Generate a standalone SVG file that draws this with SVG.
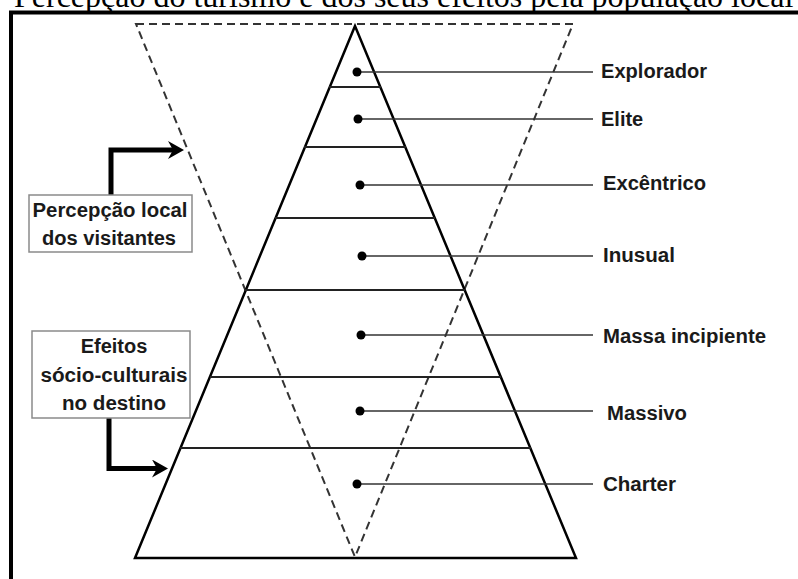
<svg xmlns="http://www.w3.org/2000/svg" width="798" height="579" viewBox="0 0 798 579">
<defs>
<marker id="arrow" markerUnits="userSpaceOnUse" viewBox="0 0 16 18" markerWidth="16" markerHeight="18" refX="8" refY="9" orient="auto">
<path d="M0,0 L16,9 L0,18 L5,9 Z" fill="#000"/>
</marker>
<style>
.lbl{font-family:"Liberation Sans",Arial,sans-serif;font-weight:bold;font-size:20px;fill:#1a1a1a}
.box{fill:#fff;stroke:#8a8a8a;stroke-width:1.5}
.div{stroke:#222;stroke-width:2}
.lead{stroke:#333;stroke-width:1.6}
.dot{fill:#000}
.arr{fill:none;stroke:#000;stroke-width:5;marker-end:url(#arrow)}
.dash{fill:none;stroke:#333;stroke-width:2;stroke-dasharray:8 5}
</style>
</defs>
<rect width="798" height="579" fill="#fff"/>
<g id="title">
<text x="14" y="7" font-family="'Liberation Serif','Times New Roman',serif" font-size="32" fill="#000">Percepção do turismo e dos seus efeitos pela população local</text>
</g>
<g id="frame">
<path d="M11,600 V12.5 H800" fill="none" stroke="#000" stroke-width="4"/>
</g>
<g id="inverted-triangle">
<path class="dash" d="M136,24 H573 L355,557 Z"/>
</g>
<g id="pyramid">
<path d="M355,26 L135,558 L576,558 Z" fill="none" stroke="#000" stroke-width="2.5"/>
<line class="div" x1="329" y1="87" x2="381" y2="87"/>
<line class="div" x1="304" y1="147" x2="406" y2="147"/>
<line class="div" x1="275" y1="218" x2="435" y2="218"/>
<line class="div" x1="245" y1="290" x2="465" y2="290"/>
<line class="div" x1="210" y1="377" x2="501" y2="377"/>
<line class="div" x1="180" y1="448" x2="531" y2="448"/>
</g>
<g id="connectors">
<line class="lead" x1="357" y1="72" x2="593" y2="72"/>
<line class="lead" x1="358" y1="119" x2="593" y2="119"/>
<line class="lead" x1="360" y1="185" x2="593" y2="185"/>
<line class="lead" x1="362" y1="256" x2="593" y2="256"/>
<line class="lead" x1="361" y1="335" x2="593" y2="335"/>
<line class="lead" x1="360" y1="411" x2="593" y2="411"/>
<line class="lead" x1="357" y1="484" x2="593" y2="484"/>
<path class="arr" d="M111,195 V150 H176"/>
<path class="arr" d="M109,418 V468.5 H160"/>
</g>
<g id="level-explorador">
<circle class="dot" cx="357" cy="72" r="4.5"/>
<text class="lbl" x="601" y="78" textLength="106" lengthAdjust="spacingAndGlyphs">Explorador</text>
</g>
<g id="level-elite">
<circle class="dot" cx="358" cy="119" r="4.5"/>
<text class="lbl" x="601" y="126">Elite</text>
</g>
<g id="level-excentrico">
<circle class="dot" cx="360" cy="185" r="4.5"/>
<text class="lbl" x="603" y="190" textLength="103" lengthAdjust="spacingAndGlyphs">Excêntrico</text>
</g>
<g id="level-inusual">
<circle class="dot" cx="362" cy="256" r="4.5"/>
<text class="lbl" x="603" y="262" textLength="72" lengthAdjust="spacingAndGlyphs">Inusual</text>
</g>
<g id="level-massa-incipiente">
<circle class="dot" cx="361" cy="335" r="4.5"/>
<text class="lbl" x="603" y="343" textLength="163" lengthAdjust="spacingAndGlyphs">Massa incipiente</text>
</g>
<g id="level-massivo">
<circle class="dot" cx="360" cy="411" r="4.5"/>
<text class="lbl" x="607" y="420" textLength="80" lengthAdjust="spacingAndGlyphs">Massivo</text>
</g>
<g id="level-charter">
<circle class="dot" cx="357" cy="484" r="4.5"/>
<text class="lbl" x="603" y="491" textLength="73" lengthAdjust="spacingAndGlyphs">Charter</text>
</g>
<g id="box-percepcao">
<rect class="box" x="29" y="195" width="163" height="57"/>
<text class="lbl" x="110" y="217" text-anchor="middle" textLength="155" lengthAdjust="spacingAndGlyphs">Percepção local</text>
<text class="lbl" x="109" y="245" text-anchor="middle" textLength="134" lengthAdjust="spacingAndGlyphs">dos visitantes</text>
</g>
<g id="box-efeitos">
<rect class="box" x="32" y="331" width="158" height="87"/>
<text class="lbl" x="114" y="353" text-anchor="middle">Efeitos</text>
<text class="lbl" x="114" y="382" text-anchor="middle" textLength="147" lengthAdjust="spacingAndGlyphs">sócio-culturais</text>
<text class="lbl" x="114" y="410" text-anchor="middle" textLength="104" lengthAdjust="spacingAndGlyphs">no destino</text>
</g>
</svg>
